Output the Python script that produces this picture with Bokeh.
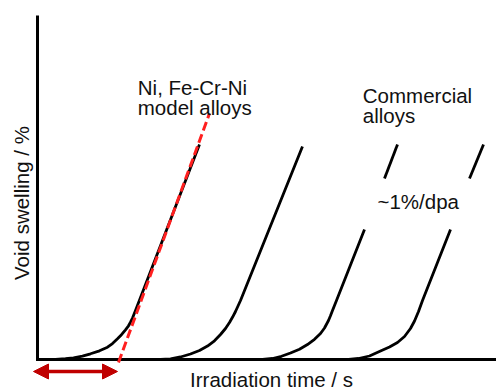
from math import pi
from bokeh.plotting import figure
from bokeh.models import Range1d, Arrow, NormalHead, ColumnDataSource
from bokeh.core.properties import value
from bokeh.embed import file_html
from bokeh.resources import INLINE

# ---- data (irradiation time vs void swelling, arbitrary units) ----
# Ni, Fe-Cr-Ni model alloys
model_t = [1.74, 3.92, 6.10, 7.84, 9.80, 11.55, 13.51, 15.25, 16.34, 17.43,
           18.30, 19.17, 19.83, 20.26, 20.70, 21.35, 35.29]
model_s = [0.00, 0.06, 0.23, 0.49, 0.96, 1.66, 2.53, 3.58, 4.65, 6.02,
           7.21, 8.63, 9.80, 10.84, 12.06, 14.24, 62.50]
# linear extrapolation of the steady-state swelling (red dashed)
extrap_t = [17.65, 37.47]
extrap_s = [-0.87, 71.51]
# commercial alloys
comm1_t = [25.71, 26.80, 28.98, 31.15, 33.33, 35.29, 37.04, 38.56, 39.87,
           40.96, 41.83, 42.48, 43.14, 44.23, 57.73]
comm1_s = [0.00, 0.03, 0.20, 0.73, 1.60, 2.62, 3.92, 5.44, 7.27,
           9.01, 10.76, 12.27, 13.95, 17.15, 61.92]
comm2_t = [46.84, 49.02, 51.20, 53.16, 55.12, 57.08, 58.82, 60.35, 61.66,
           62.53, 63.40, 63.83, 64.27, 65.14, 71.24]
comm2_s = [0.00, 0.06, 0.29, 0.93, 1.89, 2.99, 4.36, 5.87, 7.56,
           9.16, 11.34, 12.70, 14.24, 17.15, 37.79]
comm2_upper_t = [75.60, 78.43]
comm2_upper_s = [52.62, 62.50]
comm3_t = [65.58, 67.76, 69.93, 72.33, 74.73, 76.69, 78.43, 79.96, 81.26,
           82.14, 83.01, 83.88, 89.98]
comm3_s = [0.00, 0.06, 0.29, 1.02, 2.47, 3.63, 4.94, 6.69, 9.01,
           11.19, 13.95, 17.15, 37.79]
comm3_upper_t = [94.12, 97.17]
comm3_upper_s = [52.62, 62.50]
# incubation period (double arrow)
incub_t = [-0.87, 17.43]
incub_s = -3.49
# axes extents
axis_t = [0, 0, 100]
axis_s = [100, 0, 0]

# ---- figure ----
p = figure(width=496, height=390, x_range=Range1d(-8.06, 100.0),
           y_range=Range1d(-9.01, 104.36), x_axis_location=None,
           y_axis_location=None, toolbar_location=None, output_backend="svg",
           min_border=0, outline_line_color=None, background_fill_color="white",
           border_fill_color="white")
p.grid.visible = False

p.line(axis_t, axis_s, line_color="black", line_width=3, line_join="miter")

black = dict(line_color="black", line_width=2.8, line_join="round", line_cap="butt")
p.line(model_t, model_s, **black)
p.line(comm1_t, comm1_s, **black)
p.line(comm2_t, comm2_s, **black)
p.line(comm2_upper_t, comm2_upper_s, **black)
p.line(comm3_t, comm3_s, **black)
p.line(comm3_upper_t, comm3_upper_s, **black)

p.line(extrap_t, extrap_s, line_color="#FF1F1F", line_width=3, line_dash="9 4")

head = dict(size=15, fill_color="#C00000", line_color="#C00000", line_width=1)
p.add_layout(Arrow(x_start=incub_t[0], y_start=incub_s, x_end=incub_t[1], y_end=incub_s,
                   start=NormalHead(**head), end=NormalHead(**head),
                   line_color="#C00000", line_width=3.5))

font = value("Liberation Sans")
labels = ColumnDataSource(dict(
    x=[21.85, 21.85, 70.87, 70.87, 74.07],
    y=[78.98, 73.25, 76.83, 71.01, 45.84],
    text=["Ni, Fe-Cr-Ni", "model alloys", "Commercial", "alloys", "~1%/dpa"],
))
p.text(x="x", y="y", text="text", source=labels, text_font=font,
       text_font_size="20.5px", text_color="#111111", text_align="left",
       text_baseline="alphabetic")

p.text(x=[50.98], y=[-5.87], text=["Irradiation time / s"], text_font=font,
       text_font_size="20.5px", text_color="#111111", text_align="center",
       text_baseline="alphabetic")
p.text(x=[-3.38], y=[45.49], text=["Void swelling / %"], angle=pi / 2,
       text_font=font, text_font_size="20.5px", text_color="#111111",
       text_align="center", text_baseline="alphabetic")

open("out.html", "w").write(file_html(p, INLINE))
